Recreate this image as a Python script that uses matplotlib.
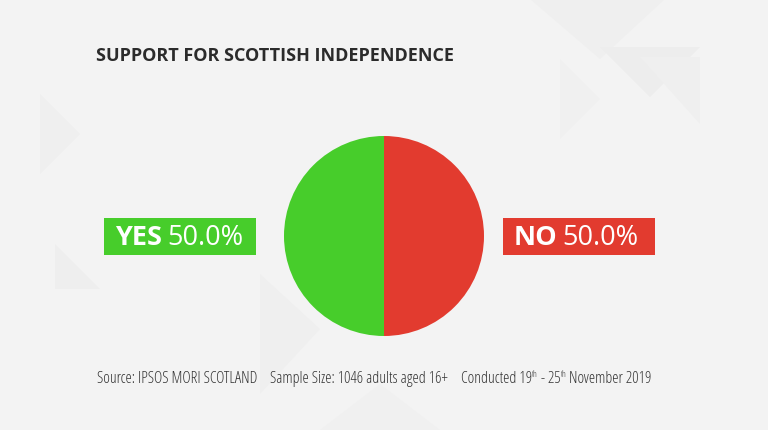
import matplotlib.pyplot as plt
from matplotlib.patches import Rectangle, Polygon

# Data
labels = ['YES', 'NO']
shares = [50.0, 50.0]
colors = ['#47cd2b', '#e23b2f']

title = 'SUPPORT FOR SCOTTISH INDEPENDENCE'
source = 'Source: IPSOS MORI SCOTLAND'
sample = 'Sample Size: 1046 adults aged 16+'
conducted = [('Conducted 19', 0), ('th', 1), (' - 25', 0), ('th', 1), (' November 2019', 0)]

W, H = 768, 431
fig = plt.figure(figsize=(W / 100, H / 100), dpi=100, facecolor='#f3f3f3')

def px(x, y):
    # pixel (top-left origin) -> figure fraction
    return x / W, 1 - y / H

# faint background triangles
for tri, c in [
    ([(40, 95), (80, 135), (40, 175)], '#efefef'),
    ([(55, 245), (100, 290), (55, 290)], '#eeeeee'),
    ([(260, 275), (320, 330), (260, 395)], '#efefef'),
    ([(530, 0), (600, 60), (665, 0)], '#efefef'),
    ([(600, 48), (700, 48), (650, 98)], '#ededed'),
    ([(640, 58), (700, 125), (700, 58)], '#efefef'),
    ([(560, 60), (600, 100), (560, 140)], '#f0f0f0'),
    ([(380, 385), (440, 431), (320, 431)], '#f0f0f0'),
]:
    fig.patches.append(Polygon([px(*p) for p in tri], closed=True,
                               transform=fig.transFigure, facecolor=c,
                               edgecolor='none', zorder=0))

# pie
cx, cy, r = 384, 237, 100
ax = fig.add_axes([(cx - r) / W, 1 - (cy + r) / H, 2 * r / W, 2 * r / H])
ax.pie(shares, colors=colors, startangle=90, counterclock=True,
       wedgeprops=dict(linewidth=0))
ax.set_aspect('auto')
ax.set_xlim(-1, 1)
ax.set_ylim(-1, 1)
ax.axis('off')

fig.text(*px(96, 56), title, fontsize=13, fontweight='bold', color='#2b2b2b',
         family='Open Sans', va='center', ha='left')

# label boxes
fig.canvas.draw()
renderer = fig.canvas.get_renderer()
boxes = [(104, 219, 152, 37), (503, 219, 152, 37)]
for (x, y, w, h), lab, val, col in zip(boxes, labels, shares, colors):
    fig.patches.append(Rectangle(px(x, y + h), w / W, h / H,
                                 transform=fig.transFigure, facecolor=col,
                                 edgecolor='none', zorder=1))
    t1 = fig.text(*px(x + 11, y + h / 2 + 1), lab, fontsize=19.5, fontweight='bold',
                  color='white', family='Open Sans', va='center', ha='left')
    bb = t1.get_window_extent(renderer)
    fig.text((bb.x1 + 5) / W, 1 - (y + h / 2 + 1) / H, f'{val:.1f}%',
             fontsize=19.5, color='white', family='Open Sans', va='center', ha='left')

# footer
fy = 379
fkw = dict(fontsize=11.4, color='#333333', family=['Open Sans', 'DejaVu Sans'],
           fontweight='light', fontstretch='condensed', va='center', ha='left')
fig.text(*px(97, fy), source, **fkw)
fig.text(*px(270, fy), sample, **fkw)
xpos = 461
for s, sup in conducted:
    if sup:
        t = fig.text(xpos / W, 1 - (fy - 4) / H, s, fontsize=6.5, color='#333333',
                     family='Open Sans', fontweight='light', fontstretch='condensed',
                     va='center', ha='left')
    else:
        t = fig.text(xpos / W, 1 - fy / H, s, **fkw)
    xpos = t.get_window_extent(renderer).x1

fig.savefig('out.png', dpi=100, facecolor=fig.get_facecolor())
